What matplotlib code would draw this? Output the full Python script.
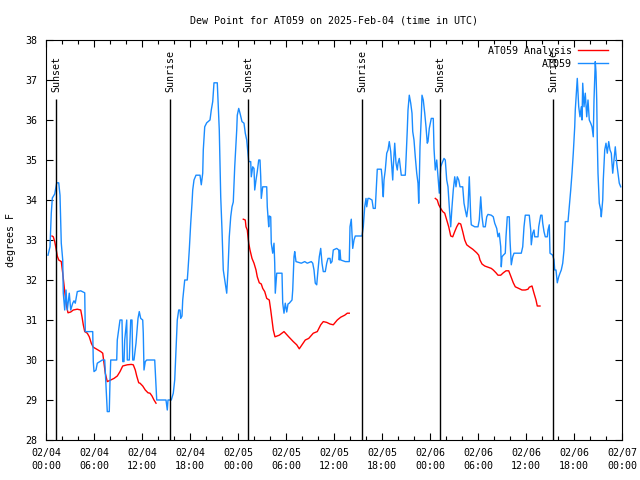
import numpy as np
import matplotlib
matplotlib.use('Agg')
import matplotlib.pyplot as plt
from matplotlib.ticker import MultipleLocator, FixedLocator

# hours since 02/04 00:00 UTC
obs_t = [0.25, 0.5, 0.66, 0.79, 1.09, 1.34, 1.59, 1.75, 1.91, 2.09, 2.16, 2.34, 2.5, 2.66, 2.91, 3.09, 3.34, 3.5, 3.66, 3.91,
         4.34, 4.84, 4.91, 5.84, 5.91, 6.0, 6.25, 6.41, 7.04, 7.34, 7.5, 7.66, 7.91, 8.0, 8.09, 8.84, 8.91, 9.25, 9.5, 9.59,
         9.75, 9.84, 10.09, 10.16, 10.41, 10.59, 10.75, 10.84, 11.0, 11.25, 11.5, 11.66, 11.84, 12.09, 12.16, 12.25, 12.41,
         12.59, 13.59, 13.84, 15.0, 15.16, 15.25, 15.66, 15.91, 16.09, 16.25, 16.41, 16.59, 16.75, 16.84, 17.0, 17.09, 17.25,
         17.34, 17.66, 17.75, 17.91, 18.0, 18.09, 18.25, 18.34, 18.5, 18.75, 19.25, 19.41, 19.59, 19.66, 19.84, 20.09, 20.5,
         20.66, 20.84, 21.0, 21.41, 21.5, 21.66, 21.84, 22.0, 22.16, 22.41, 22.59, 22.75, 22.91, 23.09, 23.25, 23.41, 23.59,
         23.84, 23.91, 24.09, 24.25, 24.5, 24.75, 24.91, 25.09, 25.25, 25.34, 25.59, 25.66, 25.84, 26.0, 26.09, 26.25, 26.41,
         26.59, 26.75, 26.84, 26.91, 27.09, 27.59, 27.66, 27.84, 27.91, 28.09, 28.16, 28.34, 28.5, 28.59, 28.66, 28.84, 29.5,
         29.59, 29.75, 29.91, 30.09, 30.25, 30.41, 30.75, 30.84, 31.0, 31.09, 31.25, 31.91, 32.34, 32.66, 33.16, 33.34, 33.5,
         33.66, 33.84, 34.0, 34.16, 34.34, 34.5, 34.66, 34.91, 35.09, 35.25, 35.5, 35.59, 35.75, 35.91, 36.34, 36.59, 36.66,
         36.75, 36.84, 37.41, 37.91, 38.0, 38.16, 38.34, 38.5, 38.66, 39.5, 39.66, 39.84, 40.0, 40.09, 40.25, 40.41, 40.75,
         40.91, 41.16, 41.34, 41.41, 41.91, 42.0, 42.09, 42.16, 42.25, 42.41, 42.59, 42.75, 42.91, 43.09, 43.25, 43.34, 43.41,
         43.59, 43.75, 43.91, 44.0, 44.16, 44.25, 44.41, 44.91, 45.0, 45.16, 45.25, 45.41, 45.59, 45.75, 45.84, 46.0, 46.16,
         46.34, 46.5, 46.59, 46.66, 46.75, 46.91, 47.0, 47.16, 47.34, 47.5, 47.66, 47.75, 47.91, 48.16, 48.41, 48.5, 48.66,
         48.84, 49.0, 49.16, 49.34, 49.5, 49.75, 49.91, 50.09, 50.25, 50.41, 50.59, 50.75, 50.91, 51.09, 51.25, 51.41, 51.59,
         51.75, 52.09, 52.25, 52.41, 52.59, 52.75, 52.91, 53.09, 53.16, 53.59, 54.0, 54.16, 54.34, 54.5, 54.66, 54.91, 55.09,
         55.25, 55.66, 55.91, 56.09, 56.34, 56.5, 56.66, 56.84, 56.91, 57.0, 57.16, 57.41, 57.5, 57.66, 57.91, 58.0, 58.16,
         58.34, 58.5, 59.41, 59.59, 59.75, 59.91, 60.41, 60.59, 60.66, 60.84, 61.0, 61.09, 61.5, 61.59, 61.84, 62.0, 62.09,
         62.25, 62.41, 62.66, 62.75, 62.91, 63.0, 63.34, 63.5, 63.59, 63.75, 63.84, 63.91, 64.09, 64.25, 64.41, 64.59, 64.75,
         64.91, 65.25, 65.41, 65.59, 65.75, 65.91, 66.09, 66.16, 66.34, 66.41, 66.59, 66.75, 66.91, 67.0, 67.09, 67.25, 67.41,
         67.59, 67.75, 67.91, 68.09, 68.25, 68.41, 68.5, 68.66, 68.75, 68.84, 68.91, 69.0, 69.16, 69.34, 69.41, 69.59, 69.66,
         69.84, 70.0, 70.16, 70.34, 70.5, 70.66, 70.84, 71.0, 71.16, 71.34, 71.5, 71.66, 71.84]
obs_v = [32.62, 32.83, 33.67, 34.05, 34.15, 34.43, 34.43, 34.12, 32.92, 32.5, 31.67, 31.25, 31.75, 31.25, 31.67, 31.25, 31.42,
         31.48, 31.42, 31.71, 31.73, 31.68, 30.71, 30.71, 29.96, 29.71, 29.75, 29.92, 30.0, 30.0, 29.38, 28.71, 28.71, 29.46,
         30.0, 30.0, 30.5, 31.0, 31.0, 29.96, 29.96, 30.5, 31.0, 30.0, 30.0, 31.0, 31.0, 30.0, 30.0, 30.42, 31.04, 31.21, 31.04,
         31.0, 30.67, 29.75, 29.96, 30.0, 30.0, 29.0, 29.0, 28.75, 29.0, 29.0, 29.17, 29.5, 30.25, 31.0, 31.25, 31.25, 31.04,
         31.1, 31.5, 31.83, 32.0, 32.0, 32.25, 32.75, 33.08, 33.42, 33.92, 34.25, 34.5, 34.62, 34.62, 34.38, 34.67, 35.25,
         35.83, 35.93, 36.0, 36.25, 36.46, 36.93, 36.93, 36.5, 35.75, 34.08, 33.25, 32.25, 31.92, 31.67, 32.25, 33.08, 33.58,
         33.83, 33.95, 34.83, 35.75, 36.12, 36.29, 36.17, 35.96, 35.92, 35.67, 35.5, 35.17, 34.96, 34.96, 34.58, 34.83, 34.79,
         34.25, 34.5, 34.71, 35.0, 35.0, 34.58, 34.04, 34.33, 34.33, 33.83, 33.33, 33.6, 33.58, 32.92, 32.67, 32.92, 32.42,
         31.67, 32.17, 32.17, 31.42, 31.17, 31.42, 31.2, 31.4, 31.42, 31.5, 31.75, 32.58, 32.71, 32.46, 32.42, 32.46, 32.42,
         32.46, 32.42, 32.25, 31.92, 31.88, 32.25, 32.58, 32.79, 32.42, 32.21, 32.21, 32.42, 32.54, 32.54, 32.42, 32.46, 32.75,
         32.79, 32.75, 32.5, 32.75, 32.5, 32.46, 32.46, 33.33, 33.52, 32.79, 33.0, 33.1, 33.1, 33.33, 33.83, 34.04, 33.83,
         34.04, 34.04, 34.0, 33.79, 33.79, 34.5, 34.77, 34.77, 34.58, 34.25, 34.08, 34.5, 34.75, 35.17, 35.25, 35.46, 35.21,
         34.75, 34.5, 34.83, 35.42, 34.92, 34.75, 34.92, 35.04, 34.88, 34.62, 34.62, 35.0, 35.75, 36.25, 36.62, 36.42, 36.17,
         35.71, 35.5, 35.08, 34.67, 34.42, 33.92, 34.42, 35.33, 36.08, 36.62, 36.5, 36.17, 35.83, 35.42, 35.46, 35.79, 36.04,
         36.04, 35.29, 34.75, 35.0, 34.58, 34.17, 34.83, 34.92, 35.04, 35.0, 34.5, 34.33, 33.83, 33.33, 33.83, 34.25, 34.58,
         34.33, 34.58, 34.5, 34.33, 34.33, 33.92, 33.75, 33.58, 33.83, 34.58, 33.58, 33.38, 33.33, 33.33, 33.5, 34.08, 33.58,
         33.33, 33.33, 33.58, 33.64, 33.62, 33.58, 33.42, 33.29, 33.08, 33.17, 32.83, 32.33, 32.58, 32.62, 32.67, 33.08, 33.58,
         33.58, 33.0, 32.38, 32.58, 32.67, 32.67, 32.83, 33.33, 33.62, 33.62, 33.25, 32.88, 33.17, 33.25, 33.08, 33.08, 33.33,
         33.62, 33.62, 33.42, 33.21, 33.08, 33.08, 33.25, 33.38, 32.67, 32.62, 32.5, 32.25, 32.25, 32.08, 31.93, 32.08, 32.17,
         32.25, 32.42, 32.75, 33.46, 33.46, 33.83, 34.25, 34.67, 35.17, 35.83, 36.25, 36.83, 37.04, 36.33, 36.08, 36.33, 36.0,
         36.92, 36.33, 36.67, 36.08, 36.5, 36.0, 35.92, 35.83, 35.58, 36.5, 37.46, 37.2, 36.5, 35.5, 34.67, 33.92, 33.75,
         33.58, 34.0, 34.5, 35.25, 35.42, 35.17, 35.46, 35.25, 35.17, 34.67, 35.0, 35.33, 34.92, 34.67, 34.42, 34.33]

# analysis runs (three segments)
ana1_t = [0.75, 0.91, 1.09, 1.25, 1.41, 1.59, 1.91, 2.09, 2.25, 2.41, 2.59, 2.75, 3.09, 3.41, 3.91, 4.34, 4.5, 4.66, 4.84,
          5.16, 5.41, 5.66, 5.91, 6.34, 6.84, 7.09, 7.25, 7.41, 7.66, 8.09, 8.5, 8.91, 9.25, 9.59, 10.16, 10.66, 10.91, 11.16,
          11.34, 11.59, 11.75, 12.09, 12.41, 12.75, 13.0, 13.25, 13.5, 13.75]
ana1_v = [33.1, 33.08, 32.96, 32.79, 32.6, 32.5, 32.46, 32.17, 31.88, 31.58, 31.33, 31.18, 31.2, 31.25, 31.27, 31.25, 31.08,
          30.88, 30.71, 30.67, 30.58, 30.42, 30.32, 30.27, 30.21, 30.17, 29.92, 29.67, 29.46, 29.5, 29.54, 29.6, 29.71, 29.85,
          29.88, 29.89, 29.88, 29.75, 29.6, 29.43, 29.42, 29.35, 29.25, 29.18, 29.17, 29.1, 29.0, 28.92]
ana2_t = [24.66, 24.91, 25.0, 25.16, 25.34, 25.5, 25.75, 26.0, 26.25, 26.41, 26.66, 26.91, 27.09, 27.34, 27.59, 27.91, 28.09,
          28.25, 28.41, 28.62, 29.16, 29.75, 30.34, 30.91, 31.34, 31.66, 32.0, 32.41, 32.84, 33.41, 33.91, 34.34, 34.66, 35.09,
          35.5, 35.91, 36.41, 36.84, 37.34, 37.66, 37.91]
ana2_v = [33.52, 33.5, 33.33, 33.25, 32.92, 32.75, 32.54, 32.42, 32.25, 32.08, 31.93, 31.9, 31.79, 31.71, 31.54, 31.5, 31.25,
          31.0, 30.75, 30.58, 30.62, 30.71, 30.58, 30.46, 30.38, 30.28, 30.38, 30.5, 30.54, 30.67, 30.71, 30.88, 30.96, 30.94,
          30.9, 30.88, 31.0, 31.07, 31.12, 31.17, 31.17]
ana3_t = [48.66, 48.91, 49.09, 49.34, 49.59, 49.84, 50.09, 50.34, 50.59, 50.84, 51.09, 51.34, 51.59, 51.84, 52.09, 52.34,
          52.59, 52.91, 53.34, 53.84, 54.09, 54.25, 54.5, 54.84, 55.25, 55.66, 55.91, 56.25, 56.5, 56.84, 57.16, 57.5, 57.84,
          58.09, 58.41, 58.66, 59.09, 59.5, 59.91, 60.25, 60.41, 60.75, 61.0, 61.25, 61.41, 61.75]
ana3_v = [34.04, 34.0, 33.88, 33.79, 33.71, 33.67, 33.5, 33.33, 33.1, 33.08, 33.21, 33.33, 33.42, 33.4, 33.21, 33.0, 32.88,
          32.83, 32.77, 32.68, 32.62, 32.5, 32.4, 32.35, 32.32, 32.29, 32.25, 32.18, 32.12, 32.12, 32.18, 32.23, 32.23, 32.1,
          31.93, 31.83, 31.79, 31.75, 31.75, 31.77, 31.82, 31.85, 31.67, 31.5, 31.35, 31.35]

sun_t = [1.25, 15.5, 25.25, 39.5, 49.25, 63.4]
sun_lbl = ['Sunset', 'Sunrise', 'Sunset', 'Sunrise', 'Sunset', 'Sunrise']

tick_t = [0, 6, 12, 18, 24, 30, 36, 42, 48, 54, 60, 66, 72]
tick_lbl = ['02/04\n00:00', '02/04\n06:00', '02/04\n12:00', '02/04\n18:00', '02/05\n00:00', '02/05\n06:00',
            '02/05\n12:00', '02/05\n18:00', '02/06\n00:00', '02/06\n06:00', '02/06\n12:00', '02/06\n18:00',
            '02/07\n00:00']

plt.rcParams['font.family'] = 'DejaVu Sans Mono'
plt.rcParams['font.size'] = 7.2

fig = plt.figure(figsize=(6.4, 4.8), dpi=100)
ax = fig.add_axes([46/640, 40/480, 576/640, 400/480])

red = '#ff0000'
blue = '#1a8cff'
ax.plot(ana1_t, ana1_v, c=red, lw=1, label='AT059 Analysis')
ax.plot(ana2_t, ana2_v, c=red, lw=1)
ax.plot(ana3_t, ana3_v, c=red, lw=1)
ax.plot(obs_t, obs_v, c=blue, lw=1, label='AT059')

for t, s in zip(sun_t, sun_lbl):
    ax.vlines(t, 28, 36.52, color='k', lw=1)
    ax.text(t, 36.7, s, rotation=90, ha='center', va='bottom')

ax.set_xlim(0, 72)
ax.set_ylim(28, 38)
ax.xaxis.set_major_locator(FixedLocator(tick_t))
ax.set_xticklabels(tick_lbl, linespacing=1.3)
ax.xaxis.set_minor_locator(MultipleLocator(2))
ax.yaxis.set_major_locator(MultipleLocator(1))
ax.tick_params(which='both', direction='in', top=True, right=True, width=0.8)
ax.tick_params(which='major', length=5, pad=6)
ax.tick_params(which='minor', length=3)
for s in ax.spines.values():
    s.set_linewidth(0.8)

ax.set_ylabel('degrees F', labelpad=7)
ax.set_title('Dew Point for AT059 on 2025-Feb-04 (time in UTC)', fontsize=7.2, pad=12)
ax.legend(loc='upper right', bbox_to_anchor=(0.986, 1.0), frameon=False, markerfirst=False,
          handlelength=3, borderaxespad=0.2, labelspacing=0.3, handletextpad=0.6)

fig.savefig('out.png', dpi=100)
